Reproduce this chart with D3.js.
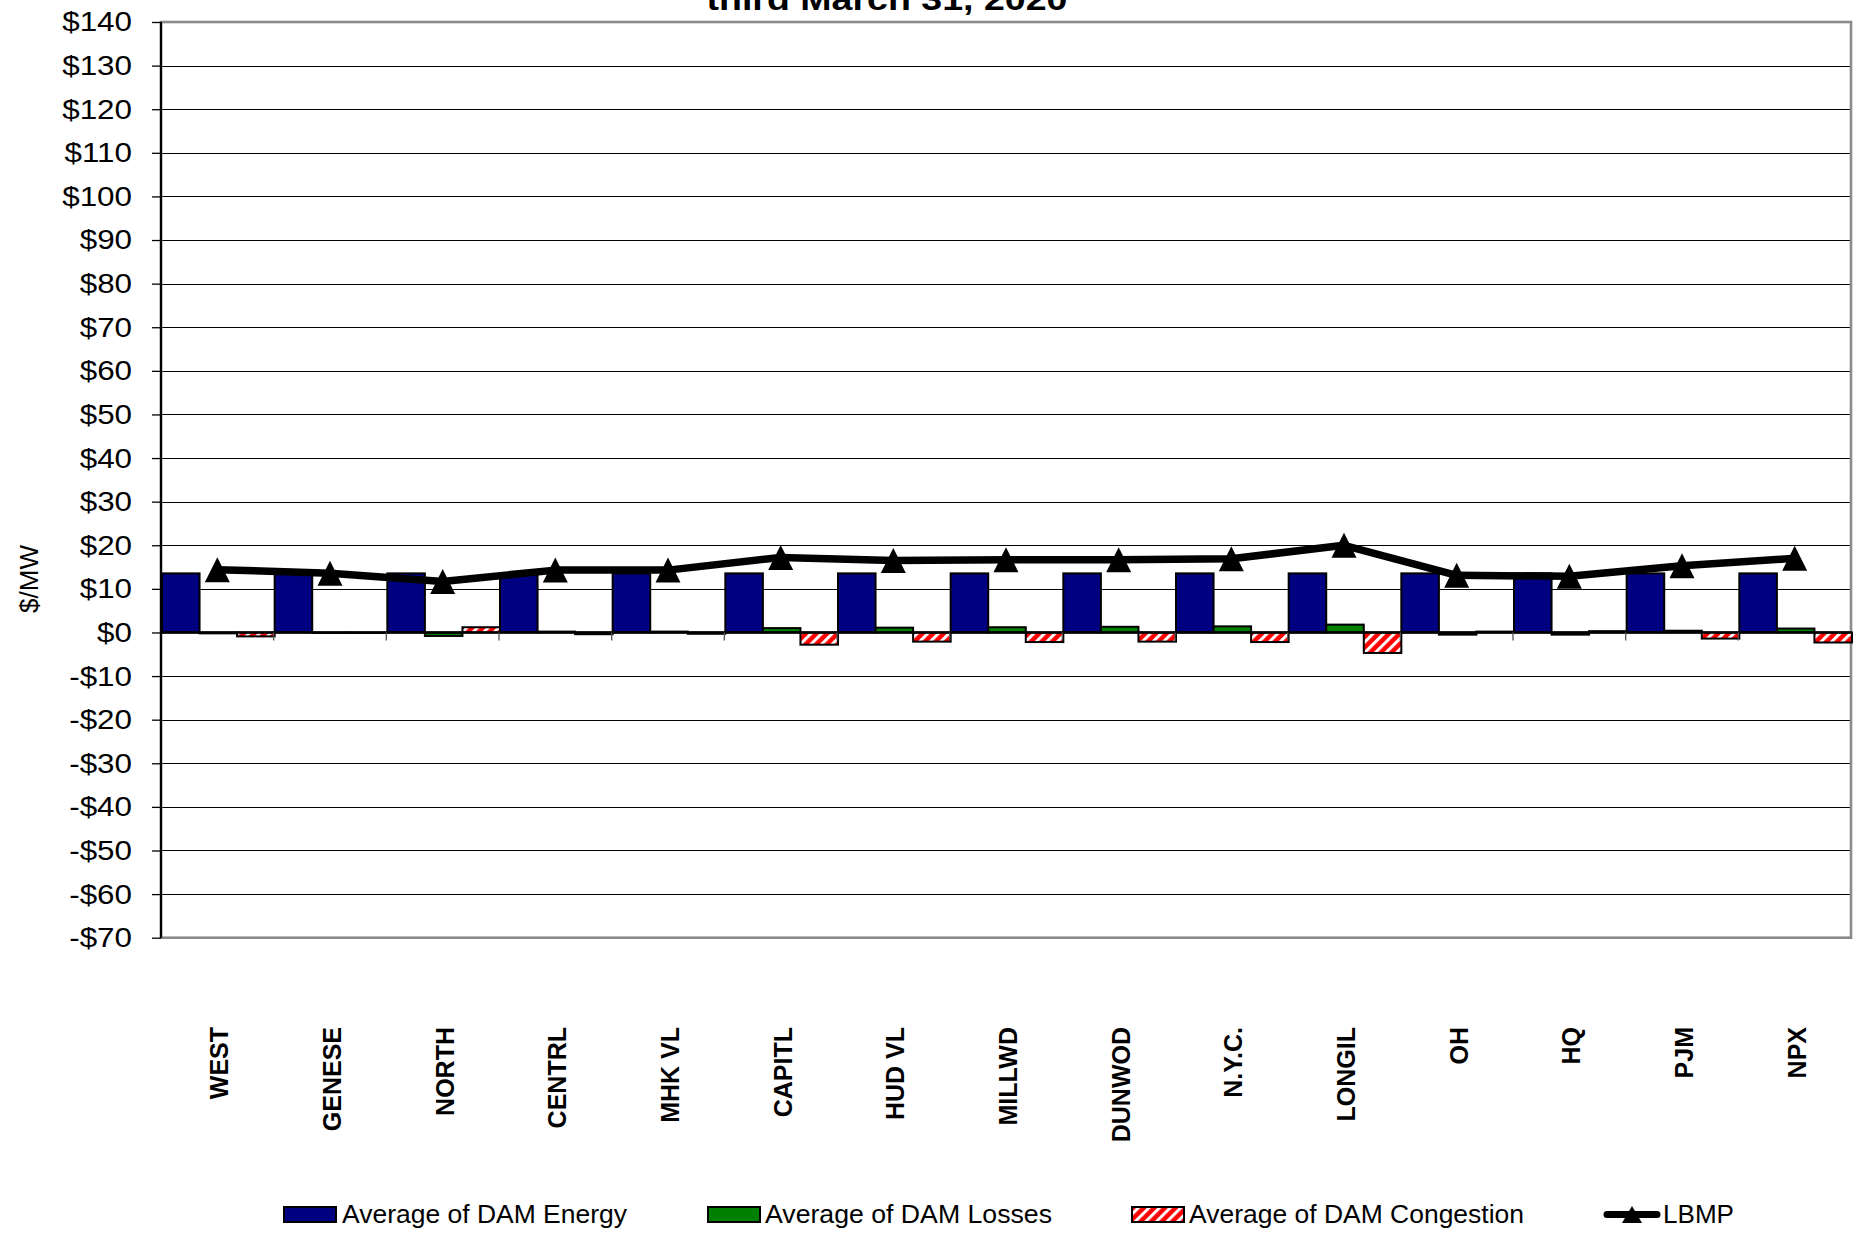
<!DOCTYPE html>
<html><head><meta charset="utf-8">
<script src="https://cdn.jsdelivr.net/npm/d3@7"></script>
<style>
body{margin:0;background:#fff;}
text{font-family:Arial,"Liberation Sans",sans-serif;fill:#000;}
</style>
</head><body>
<svg id="c" width="1863" height="1237"></svg>
<script>
const categories = ["WEST","GENESE","NORTH","CENTRL","MHK VL","CAPITL","HUD VL","MILLWD","DUNWOD","N.Y.C.","LONGIL","OH","HQ","PJM","NPX"];
const energy     = [13.55,13.55,13.55,13.55,13.55,13.55,13.55,13.55,13.55,13.55,13.55,13.55,13.55,13.55,13.55];
const losses     = [-0.2,-0.1,-0.8,0.2,0.2,1.0,1.1,1.2,1.3,1.4,1.8,-0.5,-0.5,0.4,0.9];
const congestion = [-0.9,-0.1,1.2,-0.4,-0.3,-2.8,-2.1,-2.2,-2.1,-2.2,-4.7,0.2,0.3,-1.4,-2.3];
const lbmp       = [14.4,13.6,11.7,14.3,14.3,17.2,16.5,16.7,16.7,16.9,20.0,13.1,12.9,15.3,17.0];
const seriesNames = ["Average of DAM Energy","Average of DAM Losses","Average of DAM Congestion"];
const lineName = "LBMP";
const yTickValues = [-70,-60,-50,-40,-30,-20,-10,0,10,20,30,40,50,60,70,80,90,100,110,120,130,140];
const titleText = "third March 31, 2020";
const yTitle = "$/MW";

const svg = d3.select("#c");
const L = 161, R = 1851, T = 22, B = 937.7;

const defs = svg.append("defs");
const pat = defs.append("pattern").attr("id","stripes").attr("patternUnits","userSpaceOnUse")
  .attr("width",7.5).attr("height",7.5).attr("patternTransform","rotate(45)");
pat.append("rect").attr("width",7.5).attr("height",7.5).attr("fill","#ff0000");
pat.append("rect").attr("width",3).attr("height",7.5).attr("fill","#ffffff");

const fills = ["#000080","#008000","url(#stripes)"];

const x = d3.scaleBand().domain(categories).range([L,R]).padding(0);
const sub = d3.scaleBand().domain(seriesNames).range([0,x.bandwidth()]).padding(0);
const y = d3.scaleLinear().domain([-70,140]).range([B,T]);

// gridlines
svg.append("g").selectAll("line").data(yTickValues.filter(v=>v>-70 && v<140)).join("line")
  .attr("x1",L).attr("x2",R).attr("y1",d=>Math.round(y(d))+0.5).attr("y2",d=>Math.round(y(d))+0.5)
  .attr("stroke","#000").attr("stroke-width",1);

// plot border
svg.append("rect").attr("x",L).attr("y",T).attr("width",R-L).attr("height",B-T)
  .attr("fill","none").attr("stroke","#8a8a8a").attr("stroke-width",2.6);

// y axis
const yAxis = svg.append("g").attr("transform",`translate(${L},0)`)
  .call(d3.axisLeft(y).tickValues(yTickValues).tickSize(9).tickPadding(20)
    .tickFormat(d => d<0 ? "-$"+(-d) : "$"+d));
yAxis.select(".domain").remove();
yAxis.selectAll(".tick line").attr("stroke","#000").attr("stroke-width",1.3);
yAxis.selectAll("text").attr("font-size",28).attr("font-family","Arial, 'Liberation Sans', sans-serif")
  .each(function(){ const w=this.getComputedTextLength(); d3.select(this).attr("textLength",w*1.12).attr("lengthAdjust","spacingAndGlyphs"); });

// bars
const seriesVals = [energy, losses, congestion];
seriesNames.forEach((s,si)=>{
  svg.append("g").selectAll("rect").data(categories).join("rect")
    .attr("x",c=>x(c)+sub(s)+1)
    .attr("width",sub.bandwidth())
    .attr("y",(c,i)=>y(Math.max(0,seriesVals[si][i])))
    .attr("height",(c,i)=>Math.abs(y(seriesVals[si][i])-y(0)))
    .attr("fill",fills[si]).attr("stroke","#000").attr("stroke-width",2);
});

// x axis line at zero and boundary ticks
svg.append("line").attr("x1",L).attr("x2",R).attr("y1",y(0)).attr("y2",y(0)).attr("stroke","#000").attr("stroke-width",2.5);
svg.append("g").selectAll("line").data(categories.slice(1)).join("line")
  .attr("x1",c=>x(c)).attr("x2",c=>x(c)).attr("y1",y(0)).attr("y2",y(0)+8)
  .attr("stroke","#555").attr("stroke-width",1.3);

// left axis line
svg.append("line").attr("x1",L).attr("x2",L).attr("y1",T).attr("y2",B).attr("stroke","#000").attr("stroke-width",2.2);

// x labels
const xAxis = svg.append("g").attr("transform","translate(2,1027)").call(d3.axisBottom(x).tickSize(0));
xAxis.select(".domain").remove();
xAxis.selectAll("text").attr("font-size",25).attr("font-weight","bold")
  .attr("font-family","Arial, 'Liberation Sans', sans-serif")
  .attr("x",0).attr("y",0).attr("dy","0.36em").attr("transform","rotate(-90)")
  .attr("text-anchor","end");

// LBMP line + markers
const cx = (c)=>x(c)+x.bandwidth()/2;
svg.append("path").datum(categories)
  .attr("d",d3.line().x(c=>cx(c)).y((c,i)=>y(lbmp[i])))
  .attr("fill","none").attr("stroke","#000").attr("stroke-width",7.5).attr("stroke-linejoin","round");
const tri = (w,h)=>`M0,${-h/2}L${w/2},${h/2}L${-w/2},${h/2}Z`;
svg.append("g").selectAll("path").data(categories).join("path")
  .attr("transform",(c,i)=>`translate(${cx(c)},${y(lbmp[i])})`)
  .attr("d",tri(25,25)).attr("fill","#000");

// title (cut off at top, as in the source)
svg.append("text").attr("x",887).attr("y",10).attr("text-anchor","middle")
  .attr("font-size",32).attr("font-weight","bold").attr("textLength",361).attr("lengthAdjust","spacingAndGlyphs")
  .text(titleText);

// y title
svg.append("text").attr("transform","translate(29,579) rotate(-90)").attr("text-anchor","middle")
  .attr("dy","0.35em").attr("font-size",26).text(yTitle);

// legend
const legY = 1214.5;
const legItems = [
  {sx:284, tx:342, tw:285},
  {sx:708, tx:765, tw:287},
  {sx:1132, tx:1189, tw:335}
];
seriesNames.forEach((s,i)=>{
  const it = legItems[i];
  svg.append("rect").attr("x",it.sx).attr("y",legY-7.5).attr("width",52).attr("height",15)
    .attr("fill",fills[i]).attr("stroke","#000").attr("stroke-width",2);
  svg.append("text").attr("x",it.tx).attr("y",legY+8).attr("font-size",25)
    .attr("textLength",it.tw).attr("lengthAdjust","spacingAndGlyphs").text(s);
});
svg.append("line").attr("x1",1607).attr("x2",1657).attr("y1",legY).attr("y2",legY)
  .attr("stroke","#000").attr("stroke-width",7).attr("stroke-linecap","round");
svg.append("path").attr("transform",`translate(1632,${legY})`).attr("d",tri(20,17)).attr("fill","#000");
svg.append("text").attr("x",1663).attr("y",legY+8).attr("font-size",25)
  .attr("textLength",71).attr("lengthAdjust","spacingAndGlyphs").text(lineName);
</script>
</body></html>
